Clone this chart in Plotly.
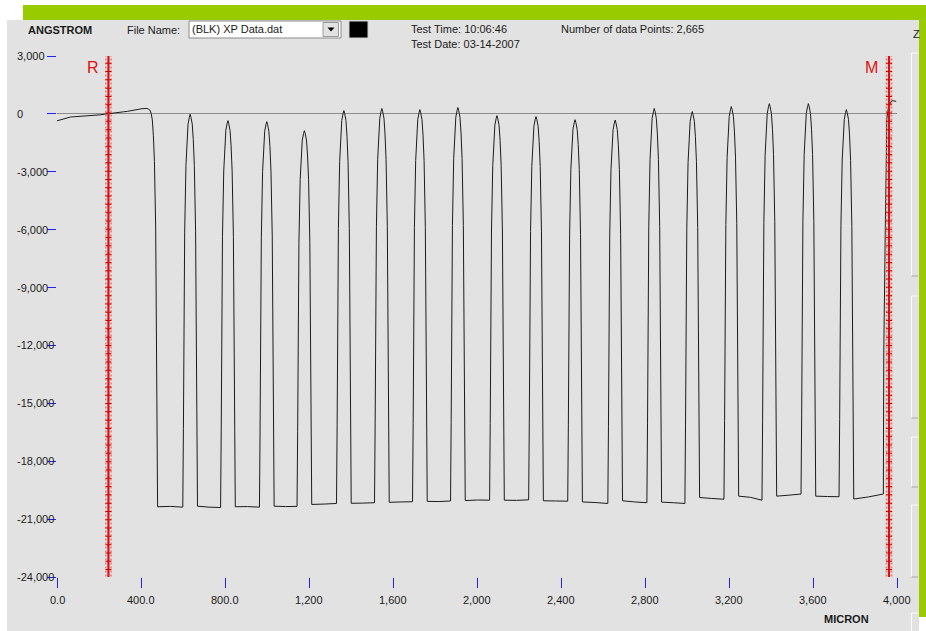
import plotly.graph_objects as go

# ---------------- data (x in microns, y in angstroms) ----------------
lead_x = [0, 10, 22, 35, 50, 65, 80, 100, 122, 140, 160, 188, 205, 225, 245,
          265, 285, 300, 318, 335, 350, 362, 375, 390, 405, 418, 428, 436, 442]
lead_y = [-360, -330, -270, -230, -170, -160, -150, -140, -120, -110, -100, -60,
          -50, -20, 0, 20, 50, 80, 110, 130, 170, 180, 210, 240, 270, 290, 280,
          250, 200]
drop_center = 444
drop_top = 200

peak_x = [634, 814, 999, 1178, 1366, 1547, 1728, 1909, 2095, 2281, 2467, 2658,
          2844, 3025, 3211, 3392, 3578, 3759]
peak_y = [-20, -350, -400, -870, 170, 280, 220, 330, -90, -140, -300, -320,
          280, 120, 380, 530, 530, 220]

trough_left_y = [-20360, -20330, -20360, -20330, -20240, -20180, -20130, -20080,
                 -20040, -20020, -20050, -20110, -20050, -20120, -19880, -19810,
                 -19810, -19810, -19960]
trough_mid_y = [-20340, -20380, -20350, -20350, -20220, -20170, -20110, -20090,
                -20010, -20030, -20060, -20140, -20110, -20150, -19930, -19870,
                -19760, -19830, -19850]
trough_right_y = [-20380, -20400, -20380, -20340, -20190, -20150, -20100, -20060,
                  -20020, -20000, -20070, -20190, -20150, -20190, -19970, -20020,
                  -19700, -19840, -19700]
last_trough_end = 3935

end_x = [3937, 3942, 3946, 3949, 3951, 3960, 3975, 3996]
end_y = [-12350, -6330, -4460, -2530, -300, 400, 690, 650]

# wall profile of one ridge (fraction of depth from top, half width in microns)
wall_frac = [0.0, 0.008, 0.025, 0.065, 0.13, 0.30, 0.55, 0.80, 1.0]
wall_half = [0, 4, 10, 15, 20, 26, 29, 32, 35]

x_ticks = [0, 400, 800, 1200, 1600, 2000, 2400, 2800, 3200, 3600, 4000]
x_tick_text = ["0.0", "400.0", "800.0", "1,200", "1,600", "2,000", "2,400",
               "2,800", "3,200", "3,600", "4,000"]
y_ticks = [3000, 0, -3000, -6000, -9000, -12000, -15000, -18000, -21000, -24000]
y_tick_text = ["3,000", "0", "-3,000", "-6,000", "-9,000", "-12,000", "-15,000",
               "-18,000", "-21,000", "-24,000"]

marker_R = 245
marker_M = 3962

# ---------------- build profile polyline ----------------
xs = list(lead_x)
ys = list(lead_y)
for f, h in zip(wall_frac[1:], wall_half[1:]):
    xs.append(drop_center + h)
    ys.append(drop_top + f * (trough_left_y[0] - drop_top))
bw = wall_half[-1]
n = len(peak_x)


def add_trough(k, x_left, x_right):
    xs.append((x_left + x_right) / 2.0)
    ys.append(trough_mid_y[k])
    xs.append(x_right)
    ys.append(trough_right_y[k])


add_trough(0, drop_center + bw, peak_x[0] - bw)
for i in range(n):
    c, top = peak_x[i], peak_y[i]
    lo_l = trough_right_y[i]
    lo_r = trough_left_y[i + 1]
    for f, h in zip(reversed(wall_frac[1:-1]), reversed(wall_half[1:-1])):
        xs.append(c - h)
        ys.append(top + f * (lo_l - top))
    xs.append(c)
    ys.append(top)
    for f, h in zip(wall_frac[1:], wall_half[1:]):
        xs.append(c + h)
        ys.append(top + f * (lo_r - top))
    x_end = peak_x[i + 1] - bw if i + 1 < n else last_trough_end
    add_trough(i + 1, c + bw, x_end)
xs += end_x
ys += end_y

# ---------------- figure ----------------
L, T, W, H = 57, 56, 840, 521
FW, FH = 926, 631


def px(x):
    return (x - L) / W


def py(y):
    return 1 - (y - T) / H


FONT = "Liberation Sans, Arial, sans-serif"
TXT = "#1a1a1a"
GREY = "#e2e2e2"
BLUE = "#2020ff"
RED = "#dd1111"

fig = go.Figure()
fig.add_trace(go.Scatter(x=xs, y=ys, mode="lines",
                         line=dict(color="#1c1c1c", width=1),
                         hoverinfo="skip", showlegend=False))

shapes = []


def rect(x0, y0, x1, y1, fill=None, line=None, lw=1, layer="above"):
    shapes.append(dict(type="rect", xref="paper", yref="paper",
                       x0=px(x0), x1=px(x1), y0=py(y1), y1=py(y0),
                       fillcolor=fill if fill else "rgba(0,0,0,0)",
                       line=dict(color=line if line else "rgba(0,0,0,0)",
                                 width=lw if line else 0),
                       layer=layer))


def pline(x0, y0, x1, y1, color, lw=1):
    shapes.append(dict(type="line", xref="paper", yref="paper",
                       x0=px(x0), x1=px(x1), y0=py(y0), y1=py(y1),
                       line=dict(color=color, width=lw), layer="above"))


# window background
rect(7, 20, 919, FH, fill=GREY, layer="below")
# green frame
rect(23, 5, FW, 20, fill="#99cc00")
rect(919, 20, FW, 617, fill="#99cc00")
# right-side widget boxes
for (a, b) in [(53, 276), (296, 418), (437, 487), (505, 577), (613, 640)]:
    pline(911.5, a, 911.5, b, "#fafafa")
    pline(911.5, a, 918, a, "#fafafa")
    pline(911.5, b, 918, b, "#a8a8a8")
# combo box
rect(189, 21, 341, 38, fill="white", line="#8a8a8a", lw=1)
rect(323, 22.5, 338.5, 36.5, fill=GREY, line="#9a9a9a", lw=1)
shapes.append(dict(type="path", xref="paper", yref="paper",
                   path="M %f,%f L %f,%f L %f,%f Z" % (px(327.5), py(27.5), px(334.5), py(27.5),
                                                       px(331), py(31.5)),
                   fillcolor="black", line=dict(width=0), layer="above"))
# black swatch
rect(349, 21, 368, 38, fill="black", line="#cfcfcf", lw=1)

# R / M markers: centre red line, dotted pink borders, cross ticks
side = 2.6 * 4000 / W  # ~2.6 px in microns
for mx in (marker_R, marker_M):
    for dx in (-side, side):
        shapes.append(dict(type="line", xref="x", yref="y", x0=mx + dx, x1=mx + dx,
                           y0=3080, y1=-24000,
                           line=dict(color="rgba(226,110,110,0.85)", width=1.6, dash="2px,2px"),
                           layer="above"))
    shapes.append(dict(type="line", xref="x", yref="y", x0=mx, x1=mx, y0=3080, y1=-24000,
                       line=dict(color=RED, width=2.2), layer="above"))
    shapes.append(dict(type="line", xref="x", yref="y", x0=mx, x1=mx, y0=3080, y1=-24000,
                       line=dict(color="#d00000", width=6, dash="1px,7.3px"),
                       layer="above"))

ann = []


def text(x, y, s, size=11, bold=False, color=TXT, anchor="left"):
    ann.append(dict(xref="paper", yref="paper", x=px(x), y=py(y), text=("<b>%s</b>" % s) if bold else s,
                    showarrow=False, xanchor=anchor, yanchor="middle",
                    font=dict(family=FONT, size=size, color=color)))


text(26, 30, "ANGSTROM", size=11, bold=True)
text(125, 29.5, "File Name:")
text(190, 29, "(BLK) XP Data.dat")
text(409, 29, "Test Time: 10:06:46")
text(409, 44.5, "Test Date: 03-14-2007")
text(559, 29, "Number of data Points: 2,665")
text(822, 619, "MICRON", size=11, bold=True)
text(911, 34, "Z", size=11)
text(92.5, 67, "R", size=16, color=RED, anchor="center")
text(871.5, 67, "M", size=16, color=RED, anchor="center")

for v, s in zip(y_ticks, y_tick_text):
    ann.append(dict(xref="paper", yref="y", x=px(15), y=v, text=s, showarrow=False,
                    xanchor="left", yanchor="middle",
                    font=dict(family=FONT, size=11, color=TXT)))
for v, s in zip(x_ticks, x_tick_text):
    ann.append(dict(xref="x", yref="paper", x=v, y=py(599.5), text=s, showarrow=False,
                    xanchor="center", yanchor="middle",
                    font=dict(family=FONT, size=11, color=TXT)))

fig.update_layout(
    width=FW, height=FH,
    margin=dict(l=L, r=FW - L - W, t=T, b=FH - T - H, pad=0),
    paper_bgcolor="white", plot_bgcolor=GREY,
    showlegend=False,
    shapes=shapes, annotations=ann,
    xaxis=dict(range=[0, 4000], showgrid=False, zeroline=False, showline=False,
               ticks="outside", ticklen=10, tickwidth=1, tickcolor=BLUE,
               tickvals=x_ticks, showticklabels=False, fixedrange=True),
    yaxis=dict(range=[-24000, 3000], showgrid=False, zeroline=True,
               zerolinecolor="#8c8c8c", zerolinewidth=1, showline=False,
               ticks="outside", ticklen=9, tickwidth=1, tickcolor=BLUE,
               tickvals=y_ticks, showticklabels=False, fixedrange=True),
)

fig.write_html("out.html", config=dict(displayModeBar=False),
               post_script="document.body.style.margin='0';")
